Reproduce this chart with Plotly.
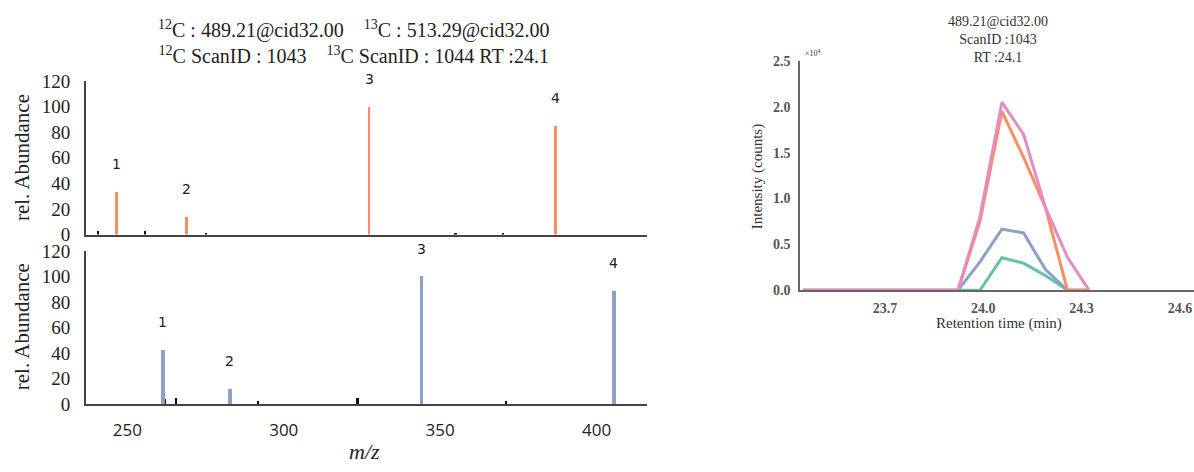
import plotly.graph_objects as go

# ---------------- data ----------------
# MS/MS spectra (relative abundance)
mz_12c = [246.4, 268.9, 327.3, 386.7]
ab_12c = [33.6, 13.4, 100.0, 85.0]
mz_13c = [261.3, 282.7, 343.9, 405.5]
ab_13c = [42.4, 11.9, 100.0, 88.6]
peak_labels = ["1", "2", "3", "4"]
noise_mz_12c = [240.6, 255.6, 275.0, 354.8, 369.9]
noise_ab_12c = [2.5, 2.5, 1.5, 1.5, 1.5]
noise_mz_13c = [262.0, 265.5, 291.6, 323.4, 371.0]
noise_ab_13c = [3.6, 4.9, 2.0, 4.3, 2.4]

# XIC (intensity in units of 1e4 counts)
rt = [23.45, 23.923, 23.99, 24.057, 24.123, 24.19, 24.257, 24.323]
xic_pink = [0, 0, 0.80, 2.05, 1.70, 0.90, 0.36, 0]
xic_orange = [0, 0, 0.75, 1.95, 1.45, 0.90, 0, 0]
xic_blue = [0, 0, 0.31, 0.667, 0.625, 0.225, 0, 0]
xic_green = [0, 0, 0, 0.354, 0.295, 0.16, 0, 0]

yticks_ms = [0, 20, 40, 60, 80, 100, 120]
xticks_ms = [250, 300, 350, 400]
xticks_rt = [23.7, 24.0, 24.3, 24.6]
yticks_rt = [0.0, 0.5, 1.0, 1.5, 2.0, 2.5]

ORANGE = "#fc8d62"
BLUE = "#8da0cb"
GREEN = "#66c2a5"
PINK = "#e78ac3"

W, H = 1194, 472
def px_x(p): return p / W
def px_y(p): return 1 - p / H

fig = go.Figure()

# top spectrum (12C)
fig.add_trace(go.Bar(x=noise_mz_12c, y=noise_ab_12c, width=0.7, marker_color="#111",
                     marker_line_width=0, xaxis="x", yaxis="y", showlegend=False))
fig.add_trace(go.Bar(x=mz_12c, y=ab_12c, width=[1.1, 1.0, 0.65, 1.1], marker_color=ORANGE,
                     marker_line_width=0, xaxis="x", yaxis="y", showlegend=False))
# bottom spectrum (13C)
fig.add_trace(go.Bar(x=noise_mz_13c, y=noise_ab_13c, width=0.8, marker_color="#111",
                     marker_line_width=0, xaxis="x2", yaxis="y2", showlegend=False))
fig.add_trace(go.Bar(x=mz_13c, y=ab_13c, width=1.1, marker_color=BLUE,
                     marker_line_width=0, xaxis="x2", yaxis="y2", showlegend=False))

# XIC lines
for ys, c in [(xic_green, GREEN), (xic_blue, BLUE), (xic_orange, ORANGE), (xic_pink, PINK)]:
    fig.add_trace(go.Scatter(x=rt, y=ys, mode="lines", line=dict(color=c, width=3),
                             xaxis="x3", yaxis="y3", showlegend=False))

annotations = []
for x, y, t in zip(mz_12c, ab_12c, peak_labels):
    annotations.append(dict(x=x, y=y, xref="x", yref="y", text=t, showarrow=False,
                            xanchor="center", yanchor="middle", yshift=28,
                            font=dict(family="DejaVu Sans", size=14, color="#222")))
for x, y, t in zip(mz_13c, ab_13c, peak_labels):
    annotations.append(dict(x=x, y=y, xref="x2", yref="y2", text=t, showarrow=False,
                            xanchor="center", yanchor="middle", yshift=28,
                            font=dict(family="DejaVu Sans", size=14, color="#222")))

serif = "Liberation Serif"
def note(x, y, text, size, color="#222", angle=0, family=serif, xanchor="center"):
    return dict(x=px_x(x), y=px_y(y), xref="paper", yref="paper", showarrow=False,
                xanchor=xanchor, yanchor="middle", text=text, textangle=angle,
                font=dict(family=family, size=size, color=color), align="center")

annotations += [
    note(354, 34, "<sup>12</sup>C : 489.21@cid32.00    <sup>13</sup>C : 513.29@cid32.00<br>"
                  "<sup>12</sup>C ScanID : 1043    <sup>13</sup>C ScanID : 1044 RT :24.1", 20),
    note(22, 155, "rel. Abundance", 21, angle=-90),
    note(22, 332, "rel. Abundance", 21, angle=-90),
    note(365, 462, "<i>m/z</i>", 22),
    note(998, 31, "489.21@cid32.00<br>ScanID :1043<br>RT :24.1", 14, color="#333"),
    note(803, 45, "×10<sup>4</sup>", 8, color="#333", xanchor="left"),
    note(757, 175, "Intensity (counts)", 15, color="#333", angle=-90),
    note(999, 328, "Retention time (min)", 15, color="#333"),
]

axis_common = dict(showgrid=False, zeroline=False, showline=True, linecolor="#444",
                   linewidth=1.5, ticks="")

fig.update_layout(
    width=W, height=H, margin=dict(l=0, r=0, t=0, b=0),
    paper_bgcolor="white", plot_bgcolor="white", bargap=0, barmode="overlay",
    annotations=annotations,
    xaxis=dict(domain=[px_x(85.7), px_x(646.7)], range=[236.7, 416], anchor="y",
               showticklabels=False, matches="x2", **axis_common),
    yaxis=dict(domain=[px_y(235), px_y(74.3)], range=[0, 120], anchor="x",
               tickvals=yticks_ms, ticklabelstandoff=10,
               tickfont=dict(family=serif, size=19, color="#222"), **axis_common),
    xaxis2=dict(domain=[px_x(85.7), px_x(646.7)], range=[236.7, 416], anchor="y2",
                tickvals=xticks_ms, ticklabelstandoff=10,
                tickfont=dict(family="Open Sans", size=17, color="#222"),
                **axis_common),
    yaxis2=dict(domain=[px_y(412.5), px_y(252.5)], range=[0, 120], anchor="x2",
                tickvals=yticks_ms, ticklabelstandoff=10,
                tickfont=dict(family=serif, size=19, color="#222"), **axis_common),
    xaxis3=dict(domain=[px_x(800), 1.0], range=[23.441, 24.643], anchor="y3",
                tickvals=xticks_rt, tickformat=".1f", ticklabelstandoff=4,
                tickfont=dict(family=serif, size=14, color="#555", weight="bold"),
                **{**axis_common, "linecolor": "#666"}),
    yaxis3=dict(domain=[px_y(293.3), px_y(53.3)], range=[0, 2.5], anchor="x3",
                tickvals=yticks_rt, tickformat=".1f", ticklabelstandoff=5,
                tickfont=dict(family=serif, size=14, color="#555", weight="bold"),
                **{**axis_common, "linecolor": "#666"}),
)

fig.write_html("out.html")
